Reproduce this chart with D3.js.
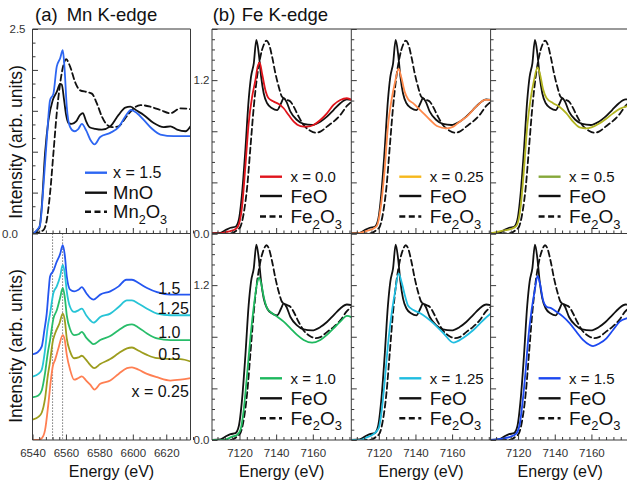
<!DOCTYPE html>
<html><head><meta charset="utf-8">
<script src="https://cdn.jsdelivr.net/npm/d3@7"></script>
<style>
html,body{margin:0;padding:0;background:#fff;}
svg{display:block;font-family:"Liberation Sans",Arial,Helvetica,sans-serif;}
</style></head><body>
<svg id="fig" width="627" height="487"></svg>
<script>
// ---------- Mn K-edge, upper panel: [energy eV, normalized intensity] ----------
const mnX15Top = [[6540.5,0],[6542.5,0.04],[6544.5,0.10],[6546.5,0.57],[6548.5,1.14],[6550.5,1.63],[6552.5,1.71],[6554.5,2.04],[6556.5,2.14],[6558.1,2.24],[6559.1,2.04],[6560.5,1.55],[6562.5,1.30],[6564.9,1.25],[6567.5,1.28],[6569.5,1.34],[6572.1,1.26],[6574.5,1.15],[6577.1,1.09],[6580.5,1.18],[6586.5,1.23],[6591.5,1.30],[6595.5,1.43],[6598.9,1.51],[6602.5,1.47],[6606.5,1.39],[6611.5,1.28],[6616.5,1.21],[6624.5,1.19],[6634.5,1.19]];
const mnMnO = [[6540.5,0],[6544.1,0.07],[6545.5,0.32],[6547.5,0.98],[6549.5,1.38],[6552.1,1.63],[6554.5,1.73],[6556.5,1.83],[6557.5,1.82],[6558.9,1.63],[6560.1,1.45],[6561.5,1.35],[6563.5,1.34],[6566.1,1.37],[6568.5,1.45],[6570.1,1.47],[6572.1,1.37],[6574.1,1.30],[6577.5,1.28],[6581.5,1.27],[6586.5,1.31],[6591.5,1.45],[6595.5,1.54],[6598.5,1.55],[6602.5,1.50],[6606.5,1.45],[6612.5,1.35],[6618.5,1.30],[6622.5,1.31],[6626.5,1.27],[6631.5,1.25],[6634.5,1.31]];
const mnMn2O3 = [[6540.5,0],[6546.5,0.04],[6548.5,0.16],[6550.5,0.49],[6552.5,0.98],[6554.5,1.47],[6556.5,1.83],[6558.5,2.06],[6560.1,2.13],[6562.5,2.04],[6565.5,1.85],[6568.5,1.75],[6572.5,1.73],[6575.5,1.71],[6578.5,1.59],[6581.5,1.43],[6584.1,1.34],[6587.5,1.30],[6591.5,1.31],[6595.5,1.41],[6599.5,1.51],[6604.5,1.57],[6610.5,1.55],[6616.5,1.51],[6622.5,1.47],[6628.5,1.53],[6634.5,1.52]];

// ---------- Mn K-edge, lower panel: offset-stacked spectra ----------
const mnStack15 = [[6540.5,1.04],[6542.9,1.06],[6545.5,1.13],[6547.1,1.33],[6548.5,1.53],[6549.7,1.82],[6550.5,1.98],[6552.5,2.05],[6554.5,2.16],[6556.5,2.25],[6558.1,2.36],[6559.3,2.24],[6560.5,1.98],[6562.5,1.82],[6564.9,1.80],[6567.5,1.82],[6569.5,1.85],[6572.1,1.78],[6574.5,1.72],[6576.5,1.70],[6580.5,1.76],[6586.5,1.80],[6591.5,1.86],[6596.1,1.94],[6599.5,1.94],[6603.5,1.90],[6608.5,1.84],[6614.5,1.79],[6622.5,1.76],[6634.5,1.76]];
const mnStack125 = [[6540.5,0.77],[6543.5,0.80],[6545.5,0.85],[6547.5,1.09],[6549.1,1.37],[6550.5,1.53],[6552.5,1.78],[6554.5,1.86],[6556.5,1.98],[6558.1,2.12],[6559.3,2.02],[6560.5,1.80],[6562.5,1.61],[6564.9,1.55],[6567.5,1.57],[6569.5,1.59],[6572.1,1.51],[6574.5,1.45],[6576.5,1.42],[6580.5,1.49],[6586.5,1.53],[6591.5,1.61],[6596.5,1.69],[6599.5,1.69],[6603.5,1.65],[6608.5,1.59],[6614.5,1.53],[6622.5,1.51],[6634.5,1.51]];
const mnStack10 = [[6540.5,0.52],[6543.5,0.54],[6545.5,0.60],[6547.5,0.81],[6549.1,1.05],[6550.5,1.21],[6552.5,1.47],[6554.5,1.57],[6556.5,1.72],[6558.1,1.84],[6559.3,1.73],[6560.5,1.51],[6562.5,1.34],[6564.9,1.27],[6567.5,1.28],[6569.5,1.31],[6572.1,1.24],[6574.5,1.19],[6576.5,1.16],[6580.5,1.21],[6586.5,1.26],[6591.5,1.33],[6596.5,1.39],[6599.5,1.40],[6603.5,1.36],[6608.5,1.29],[6614.5,1.23],[6622.5,1.21],[6634.5,1.21]];
const mnStack05 = [[6540.5,0.25],[6543.5,0.28],[6545.5,0.33],[6547.5,0.50],[6549.1,0.77],[6550.5,0.95],[6552.1,1.19],[6553.5,1.29],[6556.1,1.41],[6558.1,1.53],[6559.3,1.45],[6560.5,1.23],[6562.5,1.07],[6564.9,0.99],[6567.5,1.00],[6569.5,1.02],[6572.1,0.97],[6574.5,0.91],[6576.9,0.87],[6580.5,0.92],[6586.5,0.98],[6591.5,1.05],[6596.5,1.11],[6599.5,1.12],[6603.5,1.08],[6608.5,1.03],[6614.5,0.99],[6622.5,0.98],[6628.5,0.98],[6634.5,0.95]];
const mnStack025 = [[6540.5,0],[6543.5,0],[6545.5,0.02],[6547.5,0.12],[6549.5,0.44],[6550.9,0.71],[6552.1,0.89],[6553.5,0.97],[6555.5,1.11],[6558.1,1.27],[6559.3,1.21],[6560.5,1.03],[6562.5,0.85],[6564.9,0.73],[6567.5,0.75],[6569.5,0.77],[6572.1,0.72],[6574.5,0.67],[6577.1,0.61],[6580.5,0.68],[6586.5,0.72],[6591.5,0.80],[6596.5,0.87],[6599.5,0.88],[6603.5,0.85],[6608.5,0.80],[6614.5,0.76],[6622.5,0.72],[6628.5,0.73],[6634.5,0.75]];
const mnStackLabels = ["1.5", "1.25", "1.0", "0.5", "x = 0.25"];
const mnMarkerEnergies = [6552, 6558];

// ---------- Fe K-edge references and samples ----------
const feFeO = [[7105,0],[7109.6,0.005],[7112.4,0.027],[7115.1,0.045],[7117.8,0.053],[7119.6,0.106],[7121.4,0.315],[7123.2,0.653],[7125.0,1.045],[7126.3,1.227],[7127.8,1.332],[7129.2,1.514],[7130.5,1.41],[7131.8,1.227],[7133.2,1.097],[7135.1,1.019],[7137.8,0.98],[7140.5,0.966],[7142.7,1.019],[7144.1,1.058],[7145.6,1.032],[7147.8,0.953],[7151.4,0.888],[7155.0,0.857],[7159.6,0.849],[7164.1,0.875],[7167.7,0.914],[7171.3,0.966],[7175.0,1.019],[7178.6,1.05],[7181.3,1.045]];
const feFe2O3 = [[7105,0],[7115.1,0],[7118.7,0.027],[7120.5,0.053],[7122.3,0.158],[7124.2,0.366],[7126.0,0.679],[7127.8,0.992],[7129.6,1.227],[7131.4,1.383],[7133.2,1.475],[7134.7,1.509],[7135.9,1.488],[7137.8,1.383],[7139.6,1.253],[7141.4,1.149],[7143.2,1.07],[7146.0,1.045],[7147.8,1.032],[7149.6,0.992],[7152.3,0.914],[7155.0,0.849],[7158.6,0.804],[7161.4,0.789],[7164.1,0.797],[7167.7,0.836],[7171.3,0.875],[7175.0,0.927],[7178.6,0.998],[7181.3,1.032]];
const feX00 = [[7105,0],[7109.6,0],[7113.3,0.014],[7116.9,0.027],[7119.1,0.053],[7121.4,0.21],[7123.2,0.523],[7125.0,0.862],[7126.9,1.07],[7128.7,1.201],[7129.9,1.305],[7131.0,1.337],[7132.3,1.253],[7134.1,1.123],[7135.9,1.058],[7138.7,1.032],[7141.4,1.013],[7144.1,0.98],[7146.8,0.927],[7149.6,0.875],[7153.2,0.841],[7156.9,0.836],[7160.4,0.849],[7164.1,0.888],[7167.7,0.94],[7171.3,1.006],[7175.0,1.045],[7178.6,1.058],[7181.3,1.045]];
const feX025 = [[7105,0],[7108.1,0],[7113.5,0.02],[7117.2,0.04],[7119,0.06],[7121,0.2],[7123.2,0.5],[7125,0.84],[7127,1.05],[7128.8,1.18],[7130.8,1.29],[7132.3,1.22],[7134.1,1.11],[7136,1.05],[7138.7,1.02],[7142.6,0.966],[7148,0.888],[7151.7,0.841],[7157.1,0.823],[7160.7,0.836],[7164.1,0.875],[7168,0.914],[7173.5,0.998],[7178,1.045],[7181.3,1.045]];
const feX05 = [[7105,0],[7111,0.02],[7116,0.035],[7119.1,0.06],[7121.4,0.21],[7123.2,0.5],[7125.0,0.84],[7126.9,1.06],[7128.7,1.2],[7130.6,1.3],[7131.9,1.25],[7133.6,1.13],[7135.5,1.06],[7139.1,1.02],[7142.7,0.99],[7146.4,0.94],[7150,0.875],[7153.6,0.83],[7157.3,0.823],[7160,0.83],[7164.5,0.862],[7168.2,0.9],[7171.8,0.94],[7175.4,0.975],[7179.2,0.995],[7181.3,1.0]];
const feX10 = [[7105,0],[7111.4,0],[7116.0,0.026],[7118.7,0.039],[7120.5,0.077],[7122.3,0.232],[7124.2,0.517],[7126.0,0.801],[7127.8,1.033],[7129.6,1.214],[7130.7,1.258],[7131.8,1.214],[7133.2,1.111],[7135.1,1.02],[7137.8,0.982],[7140.5,0.956],[7144.1,0.917],[7147.8,0.865],[7151.4,0.814],[7155.0,0.775],[7159.6,0.754],[7164.1,0.775],[7167.7,0.814],[7171.3,0.865],[7175.0,0.917],[7178.6,0.961],[7181.3,0.95]];
const feX125 = [[7105,0],[7109.9,0],[7113.5,0.02],[7117.1,0.046],[7119.9,0.09],[7121.7,0.24],[7123.5,0.5],[7125.3,0.78],[7127.2,1.0],[7129,1.16],[7130.8,1.291],[7132.6,1.214],[7134.4,1.111],[7136,1.04],[7138.9,1.007],[7142.6,0.982],[7149.8,0.904],[7155.3,0.827],[7160.7,0.754],[7166.2,0.793],[7171.6,0.852],[7177.1,0.93],[7181.3,0.982]];
const feX15 = [[7105,0],[7112,0.013],[7116,0.026],[7119,0.05],[7121,0.13],[7122.5,0.3],[7124,0.52],[7125.5,0.78],[7127.3,1.0],[7129.1,1.16],[7130.6,1.271],[7131.9,1.214],[7133.6,1.085],[7135.5,1.033],[7138.2,1.02],[7140.9,0.994],[7144.5,0.956],[7148.2,0.904],[7151.8,0.839],[7155.4,0.775],[7159.1,0.736],[7160.9,0.728],[7164.5,0.749],[7168.2,0.788],[7171.8,0.852],[7175.4,0.917],[7179.2,0.943],[7181.3,0.95]];
const feSampleLabels = ["x = 0.0", "x = 0.25", "x = 0.5", "x = 1.0", "x = 1.25", "x = 1.5"];

// ---------- axis ticks ----------
const mnMajorTicks = [6540, 6560, 6580, 6600, 6620];
const feMajorTicks = [7120, 7140, 7160];
const mnYLabels = [0.0, 2.5];
const feYLabels = [0.0, 1.2];

// ---------- layout ----------
const svg = d3.select("#fig");
const rows = [{y0: 29, y1: 233.5}, {y0: 233.5, y1: 440}];
const mnL = 32.5, mnR = 190.5;
const feCols = [212, 351.3, 490.6];
const feW = 139.3;
const frameColor = "#3a3a3a";
const tickFont = "11.5px";

const mnX = d3.scaleLinear().domain([6540, 6634.5]).range([mnL, mnR]);
const mnYTop = d3.scaleLinear().domain([0, 2.5]).range([rows[0].y1, rows[0].y0]);
const mnYBot = d3.scaleLinear().domain([0, 2.5]).range([rows[1].y1, rows[1].y0]);
const feX = feCols.map(l => d3.scaleLinear().domain([7105, 7181]).range([l, l + feW]));
const feY = rows.map(r => d3.scaleLinear().domain([0, 1.6]).range([r.y1, r.y0]));

const defs = svg.append("defs");
let clipN = 0;
function clipRect(x0, y0, x1, y1) {
  const id = "clip" + (clipN++);
  defs.append("clipPath").attr("id", id).append("rect")
    .attr("x", x0).attr("y", y0).attr("width", x1 - x0).attr("height", y1 - y0);
  return "url(#" + id + ")";
}

function drawCurve(g, data, xs, ys, color, dash, width) {
  const line = d3.line().x(d => xs(d[0])).y(d => ys(d[1])).curve(d3.curveMonotoneX);
  g.append("path").datum(data).attr("d", line)
    .attr("fill", "none").attr("stroke", color).attr("stroke-width", width || 1.8)
    .attr("stroke-linejoin", "round").attr("stroke-linecap", "round")
    .attr("stroke-dasharray", dash || null);
}

function range(a, b, step) { return d3.range(a, b + step / 2, step).map(v => +v.toFixed(4)); }

function xAxis(xs, y, majors, minorStep, withLabels) {
  const [d0, d1] = xs.domain();
  const minors = range(Math.ceil(d0 / minorStep) * minorStep, d1, minorStep).filter(v => !majors.includes(v));
  const gMin = svg.append("g").attr("transform", `translate(0,${y})`)
    .call(d3.axisBottom(xs).tickValues(minors).tickSizeInner(-3).tickSizeOuter(0).tickFormat(""));
  const gMaj = svg.append("g").attr("transform", `translate(0,${y})`)
    .call(d3.axisBottom(xs).tickValues(majors).tickSizeInner(-5.5).tickSizeOuter(0).tickPadding(8.5)
      .tickFormat(withLabels ? d3.format("d") : ""));
  [gMin, gMaj].forEach(g => {
    g.select(".domain").remove();
    g.selectAll(".tick line").attr("stroke", frameColor);
    g.selectAll("text").attr("fill", "#333").style("font-size", tickFont).style("font-family", "Liberation Sans, Arial, sans-serif");
  });
}

function yAxis(ys, x, majorStep, minorStep, labels, pad) {
  const [d0, d1] = ys.domain();
  const majors = range(d0, d1, majorStep);
  const minors = range(d0, d1, minorStep).filter(v => !majors.some(m => Math.abs(m - v) < 1e-6));
  const gMin = svg.append("g").attr("transform", `translate(${x},0)`)
    .call(d3.axisLeft(ys).tickValues(minors).tickSizeInner(-3).tickSizeOuter(0).tickFormat(""));
  const gMaj = svg.append("g").attr("transform", `translate(${x},0)`)
    .call(d3.axisLeft(ys).tickValues(majors).tickSizeInner(-5.5).tickSizeOuter(0).tickPadding(pad)
      .tickFormat(v => labels && labels.some(l => Math.abs(l - v) < 1e-6) ? d3.format(".1f")(v) : ""));
  [gMin, gMaj].forEach(g => {
    g.select(".domain").remove();
    g.selectAll(".tick line").attr("stroke", frameColor);
    g.selectAll("text").attr("fill", "#333").style("font-size", tickFont).style("font-family", "Liberation Sans, Arial, sans-serif");
  });
  return gMaj;
}

function hline(x0, x1, y, color, w) {
  svg.append("line").attr("x1", x0).attr("x2", x1).attr("y1", y).attr("y2", y)
    .attr("stroke", color || frameColor).attr("stroke-width", w || 1);
}
function vline(x, y0, y1, color, w) {
  svg.append("line").attr("x1", x).attr("x2", x).attr("y1", y0).attr("y2", y1)
    .attr("stroke", color || frameColor).attr("stroke-width", w || 1);
}

function legendText(g, x, y, parts, size) {
  const t = g.append("text").attr("x", x).attr("y", y).attr("fill", "#111").style("font-size", size + "px");
  parts.forEach(p => {
    if (p.sub) {
      t.append("tspan").text(p.sub).attr("dy", size * 0.28).style("font-size", (size * 0.68) + "px");
    } else {
      t.append("tspan").text(p.t).attr("dy", p.reset ? -size * 0.28 : 0);
    }
  });
}

// ---------- panel (a): Mn K-edge ----------
// upper frame
const mnTop = svg.append("g").attr("clip-path", clipRect(mnL, rows[0].y0, mnR, rows[0].y1));
drawCurve(mnTop, mnMn2O3, mnX, mnYTop, "#111", "6,3.5");
drawCurve(mnTop, mnMnO, mnX, mnYTop, "#111");
drawCurve(mnTop, mnX15Top, mnX, mnYTop, "#2d66f2");

// lower frame: stacked spectra and edge markers
const mnBot = svg.append("g").attr("clip-path", clipRect(mnL, rows[1].y0, mnR, rows[1].y1));
mnMarkerEnergies.forEach(e => {
  mnBot.append("line").attr("x1", mnX(e)).attr("x2", mnX(e)).attr("y1", rows[1].y0).attr("y2", rows[1].y1)
    .attr("stroke", "#555").attr("stroke-width", 1).attr("stroke-dasharray", "1.2,1.8");
});
const mnStacks = [mnStack15, mnStack125, mnStack10, mnStack05, mnStack025];
const mnStackColors = ["#2456f0", "#27c4d6", "#28bd6a", "#9d9d1e", "#ff7f52"];
mnStacks.forEach((s, i) => drawCurve(mnBot, s, mnX, mnYBot, mnStackColors[i]));

// stacked labels, right-aligned near the right edge of the frame
const mnStackLabelPos = [[6628.5, 1.77], [6633.5, 1.53], [6628.5, 1.23], [6628.5, 0.97], [6633.5, 0.52]];
mnStackLabels.forEach((t, i) => {
  svg.append("text").attr("x", mnX(mnStackLabelPos[i][0])).attr("y", mnYBot(mnStackLabelPos[i][1]))
    .attr("text-anchor", "end").attr("fill", "#111").style("font-size", "16px").text(t);
});

// frame lines
hline(mnL, mnR, rows[0].y0, "#777", 1.5);
vline(mnL, rows[0].y0, rows[1].y1);
vline(mnR, rows[0].y0, rows[1].y1);
hline(mnL, mnR, rows[0].y1);
hline(mnL, mnR, rows[1].y1);
xAxis(mnX, rows[0].y1, mnMajorTicks, 4, false);
xAxis(mnX, rows[1].y1, mnMajorTicks, 4, true);
const mnYAxis = yAxis(mnYTop, mnL, 0.5, 0.5 / 3, mnYLabels, 7);
// the zero label sits further out, at the very left margin
mnYAxis.selectAll(".tick").filter(d => d === 0).select("text").attr("x", -14.5);

// legend of the upper Mn frame
const mnLeg = svg.append("g");
const mnLegRows = [
  {y: 172.7, color: "#2d66f2", dash: null, parts: [{t: "x = 1.5"}], size: 16},
  {y: 192.7, color: "#111", dash: null, parts: [{t: "MnO"}], size: 18.5},
  {y: 211.7, color: "#111", dash: "6,3.5", parts: [{t: "Mn"}, {sub: "2"}, {t: "O", reset: true}, {sub: "3"}], size: 18.5}
];
mnLegRows.forEach(r => {
  mnLeg.append("line").attr("x1", 85).attr("x2", 107).attr("y1", r.y).attr("y2", r.y)
    .attr("stroke", r.color).attr("stroke-width", 2.4).attr("stroke-dasharray", r.dash);
  legendText(mnLeg, 113, r.y + r.size * 0.36, r.parts, r.size);
});

// ---------- panel (b): Fe K-edge, 2 x 3 frames ----------
const feSamples = [feX00, feX025, feX05, feX10, feX125, feX15];
const feCurveColors = ["#e0141c", "#ff8a4c", "#b2b420", "#1eb85e", "#20bde0", "#1c48f0"];
const feLegendColors = ["#e0141c", "#f6b81c", "#86a83a", "#1eb85e", "#20bde0", "#1c48f0"];
const feLegY = [[176.7, 196, 216.5], [378.3, 398.3, 418.3]];

feSamples.forEach((s, i) => {
  const r = Math.floor(i / 3), c = i % 3;
  const xs = feX[c], ys = feY[r];
  const g = svg.append("g").attr("clip-path", clipRect(feCols[c], rows[r].y0, feCols[c] + feW, rows[r].y1));
  drawCurve(g, feFe2O3, xs, ys, "#111", "6,3.5");
  drawCurve(g, feFeO, xs, ys, "#111");
  drawCurve(g, s, xs, ys, feCurveColors[i]);

  const lx = feCols[c] + 48, tx = feCols[c] + 78.5;
  const leg = [
    {y: feLegY[r][0], color: feLegendColors[i], dash: null, parts: [{t: feSampleLabels[i]}], size: 15},
    {y: feLegY[r][1], color: "#111", dash: null, parts: [{t: "FeO"}], size: 19},
    {y: feLegY[r][2], color: "#111", dash: "6,3.5", parts: [{t: "Fe"}, {sub: "2"}, {t: "O", reset: true}, {sub: "3"}], size: 19}
  ];
  leg.forEach(l => {
    svg.append("line").attr("x1", lx).attr("x2", lx + 22).attr("y1", l.y).attr("y2", l.y)
      .attr("stroke", l.color).attr("stroke-width", 2.4).attr("stroke-dasharray", l.dash);
    legendText(svg, tx, l.y + l.size * 0.36, l.parts, l.size);
  });
});

// frames and ticks of the Fe grid
hline(feCols[0], 627, rows[0].y0, "#777", 1.5);
feCols.forEach((l, c) => {
  vline(l, rows[0].y0, rows[1].y1);
  rows.forEach((r, ri) => {
    hline(l, l + feW, r.y1);
    xAxis(feX[c], r.y1, feMajorTicks, 4, ri === 1);
    yAxis(feY[ri], l, 0.4, 0.08, c === 0 ? feYLabels : null, 2.5);
  });
});

// ---------- titles and axis names ----------
const title = (x, y, t) => svg.append("text").attr("x", x).attr("y", y).attr("fill", "#111").style("font-size", "18.5px").text(t);
title(35, 21, "(a)");
title(66.7, 21, "Mn K-edge");
title(212.7, 21, "(b)");
title(241.7, 21, "Fe K-edge");

[[142], [346]].forEach(([cy]) => {
  svg.append("text").attr("transform", `translate(22,${cy}) rotate(-90)`).attr("text-anchor", "middle")
    .attr("fill", "#111").style("font-size", "17.5px").text("Intensity (arb. units)");
});

const energyCenters = [(mnL + mnR) / 2, ...feCols.map(l => l + feW / 2)];
energyCenters.forEach(cx => {
  svg.append("text").attr("x", cx).attr("y", 476.5).attr("text-anchor", "middle")
    .attr("fill", "#111").style("font-size", "16px").text("Energy (eV)");
});
</script></body></html>
